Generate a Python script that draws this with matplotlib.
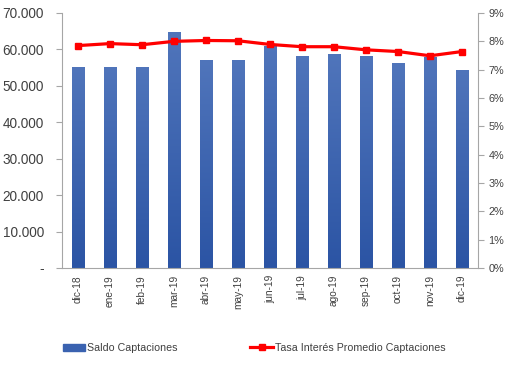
import matplotlib.pyplot as plt
import numpy as np
from matplotlib.ticker import FuncFormatter
from matplotlib.colors import LinearSegmentedColormap
import matplotlib.patches as mpatches

plt.rcParams['font.family'] = ['Liberation Sans', 'DejaVu Sans']

meses = ['dic-18', 'ene-19', 'feb-19', 'mar-19', 'abr-19', 'may-19', 'jun-19',
         'jul-19', 'ago-19', 'sep-19', 'oct-19', 'nov-19', 'dic-19']
saldo = [55200, 55200, 55200, 64800, 57100, 57100, 61000,
         58200, 58700, 58200, 56200, 57800, 54400]
tasa = [7.85, 7.92, 7.88, 8.00, 8.03, 8.02, 7.89,
        7.81, 7.81, 7.70, 7.64, 7.49, 7.64]

gris = '#A6A6A6'
texto = '#404040'
azul = '#3A62B0'
rojo = '#FF0000'
degradado = LinearSegmentedColormap.from_list('az', ['#2B54A4', '#5075BB'])

fig = plt.figure(figsize=(5.16, 3.67), dpi=100)
ax1 = fig.add_axes([62/516, 1-268/367, 416/516, 255/367])
x = np.arange(len(meses))

# barras con degradado vertical
bars = ax1.bar(x, saldo, width=0.4, color=azul, zorder=2)
grad = np.linspace(0, 1, 256).reshape(-1, 1)
for r in bars:
    r.set_facecolor('none')
    x0, w, h = r.get_x(), r.get_width(), r.get_height()
    im = ax1.imshow(grad, extent=[x0, x0 + w, 0, h], origin='lower',
                    cmap=degradado, aspect='auto', zorder=2)
    im.set_clip_path(r)
ax1.set_xlim(-0.5, len(meses)-0.5)
ax1.set_ylim(0, 70000)
ax1.set_yticks(np.arange(0, 70001, 10000))
ax1.yaxis.set_major_formatter(FuncFormatter(
    lambda v, p: '-' if v == 0 else '{:,.0f}'.format(v).replace(',', '.')))
ax1.set_xticks(x)
ax1.set_xticklabels(meses, rotation=90, fontsize=7.3, color=texto)
ax1.tick_params(axis='x', which='major', length=0, pad=5)
ax1.tick_params(axis='y', labelsize=9.8, colors=texto, length=4, color=gris, pad=9)
for s in ['top', 'right']:
    ax1.spines[s].set_visible(False)
ax1.spines['left'].set_color(gris)
ax1.spines['bottom'].set_color(gris)

# tasa en eje secundario
ax2 = ax1.twinx()
l, = ax2.plot(x, tasa, color=rojo, lw=2.3, marker='s', ms=5, zorder=3)
ax2.set_ylim(0, 9)
ax2.set_yticks(np.arange(0, 10, 1))
ax2.yaxis.set_major_formatter(FuncFormatter(lambda v, p: '{:.0f}%'.format(v)))
ax2.tick_params(axis='y', labelsize=7.8, colors=texto, length=4, color=gris)
for s in ['top', 'left', 'bottom']:
    ax2.spines[s].set_visible(False)
ax2.spines['right'].set_color(gris)

parche = mpatches.Patch(color=azul)
fig.legend([parche, l], ['Saldo Captaciones', 'Tasa Interés Promedio Captaciones'],
           loc='center left', bbox_to_anchor=(53/516, 1-348/367), ncol=2,
           frameon=False, fontsize=7.7, columnspacing=6.8, handlelength=2.1,
           handletextpad=0.2, labelcolor=texto)

fig.savefig('out.png', dpi=100)
